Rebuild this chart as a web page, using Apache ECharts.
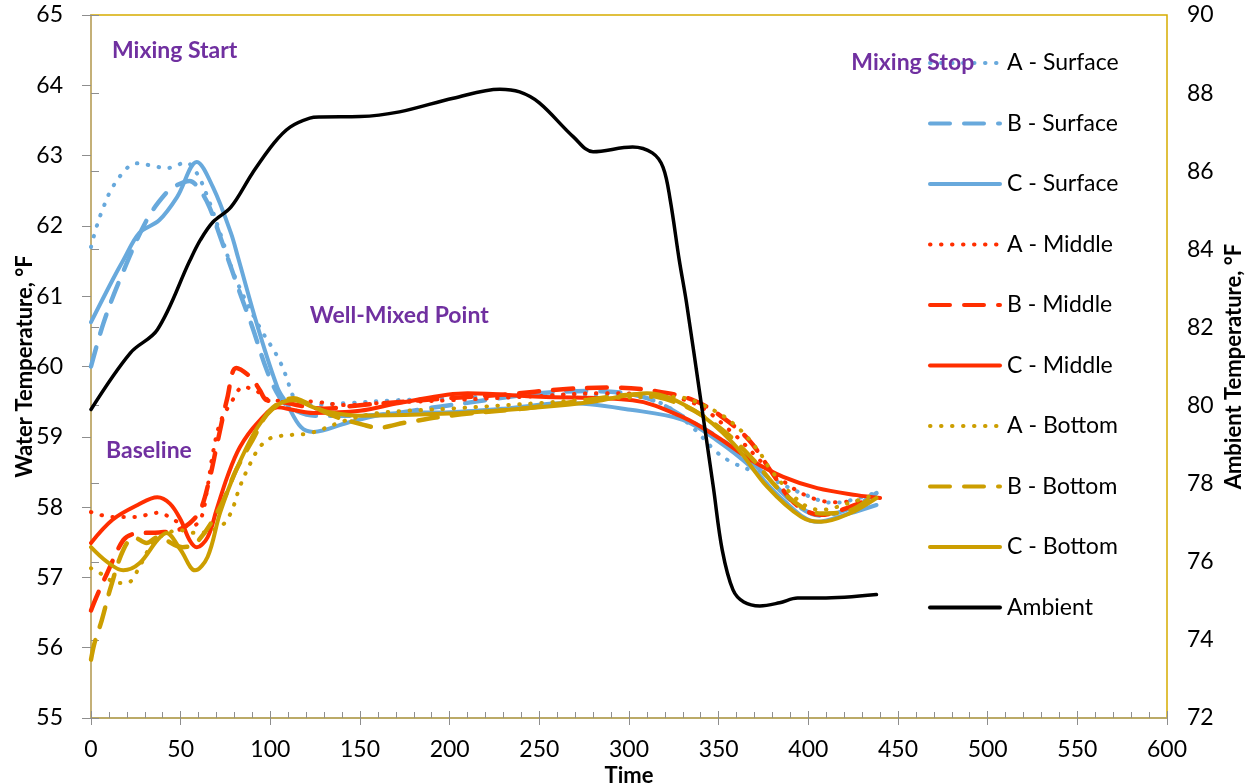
<!DOCTYPE html>
<html>
<head>
<meta charset="utf-8">
<script src="https://cdn.jsdelivr.net/npm/echarts@6/dist/echarts.min.js"></script>
<style>
html,body{margin:0;padding:0;background:#fff;}
#chart{width:1250px;height:784px;}
</style>
</head>
<body>
<div id="chart"></div>
<script>
// ---- data: [time, temperature] ----
const aSurface = [[0,61.7],[3,61.98],[7,62.27],[12,62.55],[20,62.82],[25,62.89],[37,62.84],[42,62.82],[53,62.9],[59,62.75],[65,62.41],[72,61.9],[81,61.23],[94,60.56],[104,60.14],[109,59.85],[113,59.57],[120,59.45],[143,59.48],[170,59.52],[200,59.55],[250,59.6],[300,59.6],[320,59.45],[336,59.12],[349,58.78],[358,58.63],[377,58.43],[396,58.2],[414,58.06],[438,58.21]];
const bSurface = [[0,60.0],[7,60.62],[16,61.23],[31,62.08],[42,62.47],[48,62.58],[55,62.64],[61,62.5],[66,62.27],[72,61.85],[83,61.05],[90,60.56],[98,59.95],[105,59.57],[112,59.4],[125,59.3],[150,59.3],[200,59.45],[250,59.62],[280,59.65],[310,59.55],[336,59.2],[352,58.95],[370,58.6],[392,58.06],[407,57.88],[423,57.98],[438,58.2]];
const cSurface = [[0,60.63],[12,61.23],[18,61.51],[27,61.9],[38,62.08],[48,62.41],[59,62.91],[68,62.55],[78,61.9],[82,61.55],[93,60.56],[104,59.7],[109,59.48],[117,59.14],[124,59.07],[143,59.2],[161,59.31],[172,59.34],[200,59.35],[230,59.4],[265,59.48],[302,59.38],[330,59.24],[349,58.95],[368,58.57],[386,58.1],[405,57.79],[423,57.91],[438,58.03]];
const aMiddle = [[0,57.93],[12,57.86],[24,57.86],[38,57.92],[46,57.82],[55,57.72],[61,57.82],[65,58.29],[68,58.77],[72,59.2],[78,59.48],[85,59.71],[93,59.64],[100,59.52],[124,59.5],[143,59.45],[161,59.48],[200,59.52],[250,59.58],[284,59.62],[310,59.6],[336,59.48],[358,59.05],[377,58.57],[396,58.2],[414,58.07],[433,58.1]];
const bMiddle = [[0,56.53],[3,56.72],[9,57.06],[18,57.53],[24,57.62],[38,57.64],[48,57.67],[55,57.77],[61,57.96],[66,58.39],[70,58.86],[76,59.55],[81,59.98],[89,59.85],[94,59.67],[98,59.52],[105,59.5],[130,59.4],[150,59.45],[200,59.55],[230,59.6],[265,59.68],[291,59.7],[315,59.65],[336,59.52],[352,59.28],[367,58.95],[380,58.48],[392,58.06],[407,57.89],[423,58.0],[436,58.14]];
const cMiddle = [[0,57.49],[12,57.82],[26,58.03],[37,58.14],[44,58.05],[50,57.82],[55,57.53],[59,57.43],[65,57.57],[70,57.96],[76,58.43],[83,58.85],[93,59.2],[104,59.42],[113,59.38],[124,59.34],[150,59.37],[172,59.48],[210,59.62],[250,59.57],[302,59.52],[330,59.28],[349,59.0],[368,58.67],[386,58.43],[405,58.27],[427,58.17],[440,58.13]];
const aBottom = [[0,57.13],[5,57.06],[15,56.92],[21,56.93],[27,57.15],[33,57.43],[40,57.6],[50,57.67],[59,57.63],[72,57.72],[78,57.92],[83,58.29],[89,58.63],[94,58.85],[100,58.98],[113,59.03],[122,59.05],[143,59.24],[161,59.34],[200,59.4],[250,59.48],[290,59.55],[325,59.57],[347,59.38],[362,59.1],[373,58.77],[379,58.53],[396,58.06],[407,57.96],[423,58.06],[436,58.17]];
const bBottom = [[0,55.83],[2,56.07],[6,56.39],[11,56.86],[18,57.39],[24,57.57],[31,57.49],[37,57.57],[51,57.43],[59,57.5],[72,58.0],[81,58.53],[90,58.95],[100,59.38],[113,59.55],[117,59.52],[135,59.3],[152,59.17],[160,59.13],[175,59.2],[200,59.3],[240,59.4],[270,59.5],[305,59.6],[330,59.45],[352,59.1],[368,58.71],[386,58.2],[407,57.91],[423,57.95],[438,58.2]];
const cBottom = [[0,57.43],[9,57.22],[18,57.1],[27,57.2],[37,57.53],[42,57.63],[50,57.39],[58,57.1],[65,57.29],[72,57.92],[81,58.53],[93,59.14],[104,59.45],[113,59.52],[124,59.42],[133,59.35],[150,59.3],[200,59.33],[250,59.42],[280,59.5],[310,59.62],[336,59.38],[358,58.91],[377,58.29],[396,57.86],[407,57.79],[423,57.91],[438,58.13]];
const ambient = [[0,79.9],[22,81.35],[37,81.94],[55,83.7],[61,84.24],[68,84.7],[78,85.08],[90,85.95],[102,86.72],[111,87.13],[122,87.36],[128,87.39],[150,87.4],[172,87.52],[202,87.87],[228,88.1],[239,88.03],[250,87.75],[269,86.88],[280,86.5],[302,86.62],[313,86.47],[319,86.1],[323,85.26],[328,83.73],[332,82.65],[340,80.14],[347,77.92],[352,76.3],[358,75.28],[364,74.97],[373,74.87],[384,74.95],[394,75.07],[407,75.07],[438,75.16]];

const seriesNames = ['A - Surface','B - Surface','C - Surface','A - Middle','B - Middle','C - Middle','A - Bottom','B - Bottom','C - Bottom','Ambient'];
const annotations = [
  {text:'Mixing Start', t:11.7, v:64.49},
  {text:'Mixing Stop', t:424, v:64.33},
  {text:'Well-Mixed Point', t:122, v:60.73},
  {text:'Baseline', t:8.4, v:58.8}
];

const BLUE = '#68A9DC', RED = '#FF2E00', GOLD = '#CC9E00', BLACK = '#000000';
const DOT = [0.5, 10.5], DASH = [20, 14];
const FONT = 'Lato, "Open Sans", sans-serif';

function mk(name, data, color, type, width, yIdx) {
  return {
    name, type: 'line', data, xAxisIndex: 0, yAxisIndex: yIdx || 0,
    smooth: 0.35, showSymbol: false, symbol: 'none',
    lineStyle: {color, type, width, cap: 'round', join: 'round'},
    itemStyle: {color},
    emphasis: {disabled: true}
  };
}

const chart = echarts.init(document.getElementById('chart'), null, {renderer: 'canvas'});
const axisLineTan = '#B0A476';
const tickGrey = '#8E8E8E';
const option = {
  animation: false,
  textStyle: {fontFamily: FONT},
  grid: {left: 91, right: 83, top: 15, bottom: 66, containLabel: false, outerBoundsMode: 'none',
         show: true, borderColor: '#D6AC00', borderWidth: 1.5, backgroundColor: 'transparent'},
  legend: {
    data: seriesNames, orient: 'vertical', left: 928, top: 51.5, padding: 0,
    itemWidth: 70, itemHeight: 22, itemGap: 37.5,
    itemStyle: {opacity: 0},
    lineStyle: {width: 4},
    textStyle: {fontFamily: FONT, fontSize: 23, color: '#000', lineHeight: 22, padding: [0,0,0,2]}
  },
  xAxis: [{
    type: 'value', min: 0, max: 600, interval: 50, position: 'bottom',
    name: 'Time', nameLocation: 'middle', nameGap: 47, nameMoveOverlap: false,
    nameTextStyle: {fontFamily: FONT, fontSize: 22, fontWeight: 'bold', color: '#000'},
    axisLine: {show: true, lineStyle: {color: axisLineTan, width: 1.5}},
    axisTick: {show: true, inside: false, length: 7, lineStyle: {color: tickGrey}},
    axisLabel: {fontFamily: FONT, fontSize: 23, color: '#000', margin: 20},
    splitLine: {show: false}
  }, {
    type: 'value', min: 0, max: 600, interval: 50, position: 'bottom', gridIndex: 0,
    axisLine: {show: false}, axisLabel: {show: false}, splitLine: {show: false},
    axisTick: {show: true, inside: true, length: 7, lineStyle: {color: tickGrey}},
    minorTick: {show: true, splitNumber: 5, length: 6, lineStyle: {color: tickGrey}},
    minorSplitLine: {show: false}
  }],
  yAxis: [{
    type: 'value', min: 55, max: 65, interval: 1, position: 'left',
    name: 'Water Temperature, °F', nameLocation: 'middle', nameGap: 55, nameMoveOverlap: false,
    nameTextStyle: {fontFamily: FONT, fontSize: 22, fontWeight: 'bold', color: '#000'},
    axisLine: {show: true, lineStyle: {color: axisLineTan, width: 1.5}},
    axisTick: {show: true, inside: false, length: 9, lineStyle: {color: tickGrey}},
    axisLabel: {fontFamily: FONT, fontSize: 23, color: '#000', margin: 28},
    splitLine: {show: false}
  }, {
    type: 'value', min: 72, max: 90, interval: 2, position: 'right',
    name: 'Ambient Temperature, °F', nameLocation: 'middle', nameGap: 56, nameRotate: 90, nameMoveOverlap: false,
    nameTextStyle: {fontFamily: FONT, fontSize: 22, fontWeight: 'bold', color: '#000'},
    axisLine: {show: true, lineStyle: {color: '#C7B27C', width: 1.5}},
    axisTick: {show: true, inside: false, length: 8, lineStyle: {color: tickGrey}},
    axisLabel: {fontFamily: FONT, fontSize: 23, color: '#000', margin: 20},
    splitLine: {show: false}
  }],
  series: [
    mk(seriesNames[0], aSurface, BLUE, DOT, 4),
    mk(seriesNames[1], bSurface, BLUE, DASH, 4.5),
    mk(seriesNames[2], cSurface, BLUE, 'solid', 4),
    mk(seriesNames[3], aMiddle, RED, DOT, 4),
    mk(seriesNames[4], bMiddle, RED, DASH, 4.5),
    mk(seriesNames[5], cMiddle, RED, 'solid', 4),
    mk(seriesNames[6], aBottom, GOLD, DOT, 4),
    mk(seriesNames[7], bBottom, GOLD, DASH, 4.5),
    mk(seriesNames[8], cBottom, GOLD, 'solid', 4),
    mk(seriesNames[9], ambient, BLACK, 'solid', 3.5, 1)
  ]
};
chart.setOption(option);

const gfx = annotations.map(a => {
  const p = chart.convertToPixel({xAxisIndex: 0, yAxisIndex: 0}, [a.t, a.v]);
  return {
    type: 'text', x: p[0], y: p[1], z: 10,
    style: {text: a.text, fill: '#7030A0', font: 'bold 23px ' + FONT, textVerticalAlign: 'middle', textAlign: 'left'}
  };
});
chart.setOption({graphic: gfx});
</script>
</body>
</html>
